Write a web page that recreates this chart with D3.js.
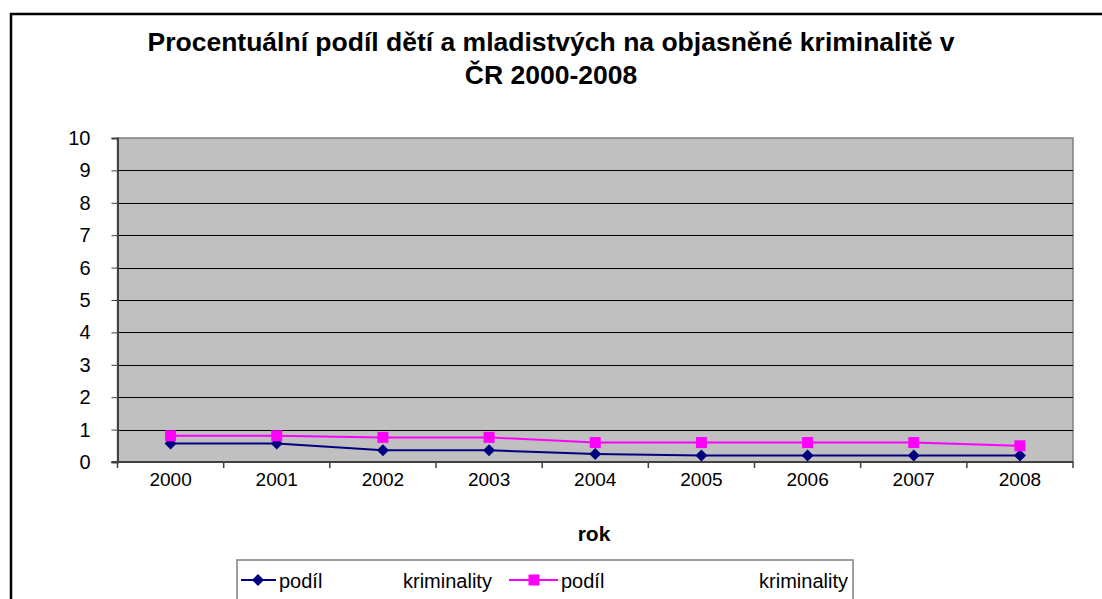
<!DOCTYPE html>
<html>
<head>
<meta charset="utf-8">
<script src="https://cdn.jsdelivr.net/npm/d3@7"></script>
<style>
  body { margin: 0; background: #fff; }
  svg { display: block; font-family: "Liberation Sans", Arial, sans-serif; }
</style>
</head>
<body>
<svg id="chart" width="1102" height="599"></svg>
<script>
// data
var years = ['2000', '2001', '2002', '2003', '2004', '2005', '2006', '2007', '2008'];
var podilDeti = [0.57, 0.57, 0.36, 0.36, 0.25, 0.2, 0.2, 0.2, 0.2];
var podilMladistvych = [0.81, 0.81, 0.76, 0.76, 0.6, 0.6, 0.6, 0.6, 0.5];
var yTicks = [0, 1, 2, 3, 4, 5, 6, 7, 8, 9, 10];

var titleLines = ['Procentuální podíl dětí a mladistvých na objasněné kriminalitě v', 'ČR 2000-2008'];

(function() {

var svg = d3.select('#chart');

// outer chart border (runs off the right / bottom edge)
svg.append('rect')
  .attr('x', 11).attr('y', 14)
  .attr('width', 1200).attr('height', 700)
  .attr('fill', '#fff')
  .attr('stroke', '#000')
  .attr('stroke-width', 2.5);

var pLeft = 117.5, pRight = 1073, pTop = 138, pBottom = 462;

var x = d3.scaleBand().domain(years).range([pLeft, pRight]);
var y = d3.scaleLinear().domain([0, 10]).range([pBottom, pTop]);

// plot area
svg.append('rect')
  .attr('x', pLeft).attr('y', pTop)
  .attr('width', pRight - pLeft).attr('height', pBottom - pTop)
  .attr('fill', '#c0c0c0')
  .attr('stroke', '#808080')
  .attr('stroke-width', 1.5);

// gridlines
svg.append('g')
  .selectAll('line')
  .data(yTicks.filter(function(d){ return d > 0 && d < 10 }))
  .enter()
  .append('line')
  .attr('x1', pLeft).attr('x2', pRight)
  .attr('y1', function(d){ return Math.round(y(d)) + 0.5 })
  .attr('y2', function(d){ return Math.round(y(d)) + 0.5 })
  .attr('stroke', '#000')
  .attr('stroke-width', 1);

// y axis
var yAxis = d3.axisLeft(y).tickValues(yTicks).tickSize(6).tickPadding(21);
var gy = svg.append('g')
  .attr('transform', 'translate(' + pLeft + ',0)')
  .call(yAxis);
gy.select('.domain').attr('stroke', '#404040').attr('stroke-width', 2);
gy.selectAll('.tick line').attr('stroke', '#404040');
gy.selectAll('.tick text')
  .style('font-size', '20px')
  .style('font-family', '"Liberation Sans", Arial, sans-serif')
  .attr('fill', '#000');

// x axis: ticks on category boundaries
var gx = svg.append('g')
  .attr('transform', 'translate(0,' + pBottom + ')');
gx.append('line')
  .attr('x1', pLeft - 6).attr('x2', pRight)
  .attr('stroke', '#404040').attr('stroke-width', 2);
gx.selectAll('.xtick')
  .data(years.concat(['end']))
  .enter()
  .append('line')
  .attr('class', 'xtick')
  .attr('x1', function(d, i){ return pLeft + i * x.bandwidth() })
  .attr('x2', function(d, i){ return pLeft + i * x.bandwidth() })
  .attr('y1', 0).attr('y2', 6)
  .attr('stroke', '#404040').attr('stroke-width', 1.5);
gx.selectAll('.xlabel')
  .data(years)
  .enter()
  .append('text')
  .attr('class', 'xlabel')
  .attr('x', function(d){ return x(d) + x.bandwidth() / 2 })
  .attr('y', 24)
  .attr('text-anchor', 'middle')
  .style('font-size', '19px')
  .text(function(d){ return d });

// lines
var cx = function(i){ return x(years[i]) + x.bandwidth() / 2 };
var lineGen = d3.line()
  .x(function(d, i){ return cx(i) })
  .y(function(d){ return y(d) });

svg.append('path')
  .datum(podilDeti)
  .attr('d', lineGen)
  .attr('fill', 'none')
  .attr('stroke', '#000080')
  .attr('stroke-width', 2);

svg.append('path')
  .datum(podilMladistvych)
  .attr('d', lineGen)
  .attr('fill', 'none')
  .attr('stroke', '#ff00ff')
  .attr('stroke-width', 2);

var diamond = function(s){ return 'M0,' + (-s) + 'L' + s + ',0L0,' + s + 'L' + (-s) + ',0Z' };

svg.append('g')
  .selectAll('path')
  .data(podilDeti)
  .enter()
  .append('path')
  .attr('d', diamond(6))
  .attr('transform', function(d, i){ return 'translate(' + cx(i) + ',' + y(d) + ')' })
  .attr('fill', '#000080');

svg.append('g')
  .selectAll('rect')
  .data(podilMladistvych)
  .enter()
  .append('rect')
  .attr('x', function(d, i){ return cx(i) - 5.5 })
  .attr('y', function(d){ return y(d) - 5.5 })
  .attr('width', 11).attr('height', 11)
  .attr('fill', '#ff00ff');

// title
svg.append('g')
  .selectAll('text')
  .data(titleLines)
  .enter()
  .append('text')
  .attr('x', 551)
  .attr('y', function(d, i){ return 51 + i * 33 })
  .attr('text-anchor', 'middle')
  .style('font-size', '26.5px')
  .style('font-weight', 'bold')
  .text(function(d){ return d });

// axis title
svg.append('text')
  .attr('x', 594).attr('y', 541)
  .attr('text-anchor', 'middle')
  .style('font-size', '21px')
  .style('font-weight', 'bold')
  .text('rok');

// legend
var legend = svg.append('g');
legend.append('rect')
  .attr('x', 237).attr('y', 560)
  .attr('width', 616).attr('height', 60)
  .attr('fill', '#fff')
  .attr('stroke', '#808080')
  .attr('stroke-width', 1.5);

legend.append('line')
  .attr('x1', 241).attr('x2', 276).attr('y1', 580).attr('y2', 580)
  .attr('stroke', '#000080').attr('stroke-width', 2);
legend.append('path')
  .attr('d', diamond(6))
  .attr('transform', 'translate(258,580)')
  .attr('fill', '#000080');
legend.append('line')
  .attr('x1', 509).attr('x2', 558).attr('y1', 580).attr('y2', 580)
  .attr('stroke', '#ff00ff').attr('stroke-width', 2);
legend.append('rect')
  .attr('x', 528.5).attr('y', 574.5).attr('width', 11).attr('height', 11)
  .attr('fill', '#ff00ff');

var legendTexts = [
  { t: 'podíl', x: 279, a: 'start' },
  { t: 'kriminality', x: 403, a: 'start' },
  { t: 'podíl', x: 561, a: 'start' },
  { t: 'kriminality', x: 848, a: 'end' }
];
legend.selectAll('text')
  .data(legendTexts)
  .enter()
  .append('text')
  .attr('x', function(d){ return d.x })
  .attr('y', 588)
  .attr('text-anchor', function(d){ return d.a })
  .style('font-size', '20px')
  .text(function(d){ return d.t });

})();
</script>
</body>
</html>
